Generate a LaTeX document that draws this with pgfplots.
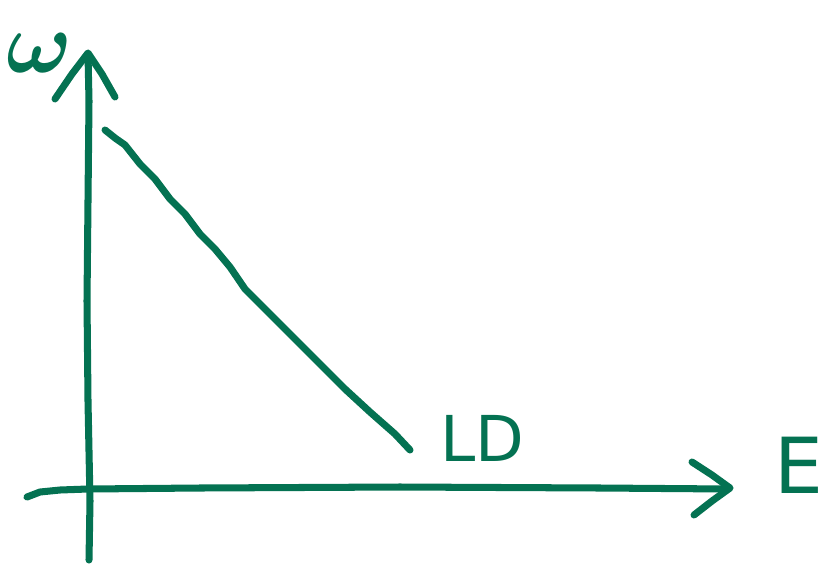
\documentclass[border=0pt]{standalone}
\usepackage{amsmath}
\usepackage{pgfplots}
\pgfplotsset{compat=1.18}
\usepackage{fontspec}
\setmainfont{DejaVu Sans}
\definecolor{ink}{RGB}{4,114,82}

\begin{document}
\begin{tikzpicture}
\begin{axis}[
    scale only axis,
    width=8.26cm, height=5.71cm,
    xmin=0, xmax=826,
    ymin=0, ymax=571,
    hide axis,
    clip=false,
    sketch/.style={ink, no markers, line width=2pt, line cap=round, line join=round},
]
% y axis (pixel coordinates, y flipped)
\addplot[sketch] coordinates {(89,11) (90,70) (88,170) (87,270) (88,370) (89,470) (88,517)};
\addplot[sketch] coordinates {(55,472) (72,497) (88,518) (102,497) (115,474)};
% x axis
\addplot[sketch] coordinates {(27,74) (40,79) (60,81) (88,82) (200,83) (400,84) (600,83) (728,82)};
\addplot[sketch] coordinates {(692,109) (712,96) (730,83) (712,70) (694,56)};
% the line
\addplot[sketch] coordinates {
    (105,441) (115,433) (125,426) (140,407) (155,392) (170,372) (185,357)
    (200,337) (215,322) (230,304) (245,282) (260,267) (280,247) (300,227)
    (320,207) (345,182) (370,159) (395,137) (410,121)
};
\node[ink, font=\fontsize{24}{26}\selectfont] at (axis cs:40,518) {$\boldsymbol{\omega}$};
\node[ink, font=\fontsize{18}{22}\selectfont, anchor=base west, inner sep=0pt] at (axis cs:440,110) {LD};
\node[ink, font=\fontsize{22}{26}\selectfont, anchor=base west, inner sep=0pt] at (axis cs:774,78) {E};
\end{axis}
\pgfresetboundingbox
\path (0,0) rectangle (8.26,5.71);
\end{tikzpicture}
\end{document}
